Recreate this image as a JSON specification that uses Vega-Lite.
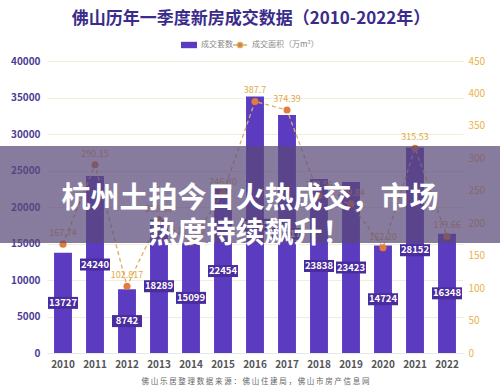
{
  "$schema": "https://vega.github.io/schema/vega-lite/v6.json",
  "width": 416,
  "height": 292,
  "autosize": {"type": "none"},
  "padding": {"left": 47, "top": 61, "right": 37, "bottom": 37},
  "background": "#ffffff",
  "config": {"font": "Noto Sans CJK SC", "view": {"stroke": null}},
  "title": {"text": "佛山历年一季度新房成交数据（2010-2022年）", "fontSize": 17, "fontWeight": 600, "color": "#3b2b8a", "anchor": "middle", "offset": 9, "dx": -4},
  "data": {"values": [
    {"year": "2010", "units": 13727, "area": 167.74, "areaText": "167.74"},
    {"year": "2011", "units": 24240, "area": 290.15, "areaText": "290.15"},
    {"year": "2012", "units": 8742, "area": 102.817, "areaText": "102.817"},
    {"year": "2013", "units": 18289, "area": 205.3, "areaText": "205.30"},
    {"year": "2014", "units": 15099, "area": 171.2, "areaText": "171.20"},
    {"year": "2015", "units": 22454, "area": 246.8, "areaText": "246.80"},
    {"year": "2016", "units": 35125, "area": 387.7, "areaText": "387.7"},
    {"year": "2017", "units": 32617, "area": 374.39, "areaText": "374.39"},
    {"year": "2018", "units": 23838, "area": 242.56, "areaText": "242.56"},
    {"year": "2019", "units": 23423, "area": 229.84, "areaText": "229.84"},
    {"year": "2020", "units": 14724, "area": 162.2, "areaText": "162.20"},
    {"year": "2021", "units": 28152, "area": 315.53, "areaText": "315.53"},
    {"year": "2022", "units": 16348, "area": 179.66, "areaText": "179.66"}
  ]},
  "resolve": {"scale": {"x": "independent", "y": "independent"}},
  "layer": [
    {
      "encoding": {
        "x": {"field": "year", "type": "ordinal", "scale": {"paddingInner": 0.44, "paddingOuter": 0.22},
          "axis": {"title": "佛 山 乐 居 整 理      数 据 来 源 ： 佛 山 住 建 局 ， 佛 山 市 房 产 信 息 网", "titleFontSize": 7.5, "titleColor": "#666666", "titleFontWeight": "normal", "titlePadding": 8, "labelAngle": 0, "labelFontSize": 10, "labelFontWeight": "bold", "labelColor": "#555555", "labelPadding": 6, "ticks": false, "domain": true, "domainColor": "#e8e8e8"}}
      },
      "resolve": {"scale": {"y": "independent"}},
      "layer": [
        {
          "mark": {"type": "bar"},
          "encoding": {
            "y": {"field": "units", "type": "quantitative", "scale": {"domain": [0, 40000]},
              "axis": {"orient": "left", "title": null, "format": "d", "values": [0, 5000, 10000, 15000, 20000, 25000, 30000, 35000, 40000], "labelColor": "#4d3c94", "labelFontWeight": "bold", "labelFontSize": 10, "labelPadding": 7, "domain": false, "ticks": false, "grid": true, "gridColor": "#f2eddb"}},
            "fill": {"datum": "成交套数", "scale": {"range": ["#5b3cc0"]},
              "legend": {"orient": "none", "legendX": 134, "legendY": -24, "title": null, "symbolType": "M-1,-0.4H1V0.4H-1Z", "symbolSize": 256, "labelFontSize": 8, "labelColor": "#888888", "symbolStrokeWidth": 0}}
          }
        },
        {
          "mark": {"type": "point", "filled": true, "shape": "M-1,-0.4H1V0.4H-1Z", "size": 900, "color": "#4a2c9e", "opacity": 1},
          "encoding": {"y": {"field": "units", "type": "quantitative", "scale": {"domain": [0, 80000]}, "axis": null}}
        },
        {
          "mark": {"type": "text", "color": "#ffffff", "fontWeight": "bold", "fontSize": 9.5},
          "encoding": {"y": {"field": "units", "type": "quantitative", "scale": {"domain": [0, 80000]}, "axis": null}, "text": {"field": "units", "type": "quantitative", "format": "d"}}
        },
        {
          "layer": [
            {
              "mark": {"type": "line", "strokeDash": [4, 3], "strokeWidth": 1.3},
              "encoding": {
                "stroke": {"datum": "成交面积（万m²）", "scale": {"range": ["#dcae62"]},
                  "legend": {"orient": "none", "legendX": 185, "legendY": -24, "title": null, "symbolType": "M-1,0H-0.45M0.45,0H1M-0.38,0A0.38,0.38 0 1,0 0.38,0A0.38,0.38 0 1,0 -0.38,0", "symbolSize": 200, "symbolFillColor": "#e27c3b", "symbolStrokeWidth": 1.3, "labelFontSize": 8, "labelColor": "#888888"}}
              }
            },
            {"mark": {"type": "point", "filled": true, "size": 50, "color": "#e27c3b", "opacity": 1}},
            {"mark": {"type": "text", "color": "#e2aa45", "fontSize": 9, "dy": -11}, "encoding": {"text": {"field": "areaText"}}}
          ],
          "encoding": {
            "y": {"field": "area", "type": "quantitative", "scale": {"domain": [0, 450]},
              "axis": {"orient": "right", "title": null, "values": [0, 50, 100, 150, 200, 250, 300, 350, 400, 450], "labelColor": "#eab34a", "labelFontSize": 10, "labelPadding": 5, "domain": false, "ticks": false, "grid": false}}
          }
        }
      ]
    },
    {
      "data": {"values": [{}]},
      "layer": [
        {
          "mark": {"type": "rect", "fill": "#5a4a78", "opacity": 0.72},
          "encoding": {
            "x": {"datum": -0.12, "type": "quantitative", "scale": {"domain": [0, 1]}, "axis": null},
            "x2": {"datum": 1.1},
            "y": {"datum": 15068, "type": "quantitative", "scale": {"domain": [0, 40000]}, "axis": null},
            "y2": {"datum": 28356}
          }
        },
        {
          "mark": {"type": "text", "text": ["杭州土拍今日火热成交，市场", "热度持续飙升！"], "fontSize": 29, "fontWeight": "bold", "color": "#ffffff", "align": "center", "baseline": "middle", "lineHeight": 35, "letterSpacing": 1.5},
          "encoding": {
            "x": {"datum": 0.488, "type": "quantitative", "scale": {"domain": [0, 1]}, "axis": null},
            "y": {"datum": 21164, "type": "quantitative", "scale": {"domain": [0, 40000]}, "axis": null}
          }
        }
      ]
    }
  ]
}
